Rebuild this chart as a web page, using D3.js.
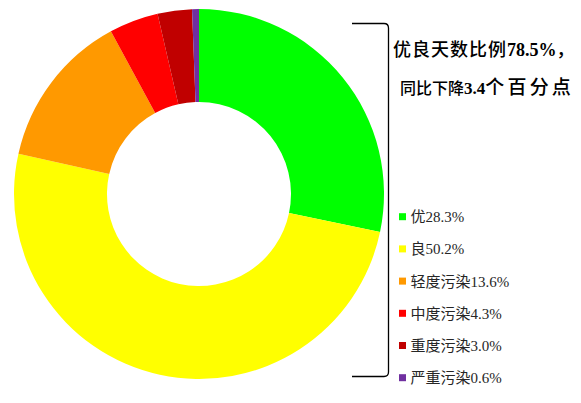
<!DOCTYPE html>
<html>
<head>
<meta charset="utf-8">
<script src="https://cdn.jsdelivr.net/npm/d3@7"></script>
<style>
  body { margin: 0; background: #fff; }
</style>
</head>
<body>
<div id="chart"></div>
<script>
var categories = ["优", "良", "轻度污染", "中度污染", "重度污染", "严重污染"];
var values = [28.3, 50.2, 13.6, 4.3, 3.0, 0.6];
var colors = ["#00FF00", "#FFFF00", "#FF9900", "#FF0000", "#C00000", "#7030A0"];
var noteLines = [
  [["优良天数比例", false], ["78.5%", true], ["，", false]],
  [["同比下降", false], ["3.4", true], ["个百分点", false]]
];

var width = 581, height = 403;
var cx = 199, cy = 194, outerR = 185, innerR = 92;

var svg = d3.select("#chart")
  .append("svg")
  .attr("width", width)
  .attr("height", height);

var pie = d3.pie().sort(null).value(function(d) { return d; });
var arc = d3.arc().innerRadius(innerR).outerRadius(outerR);

// donut
svg.append("g")
  .attr("transform", "translate(" + cx + "," + cy + ")")
  .selectAll("path")
  .data(pie(values))
  .enter()
  .append("path")
  .attr("d", arc)
  .attr("fill", function(d, i) { return colors[i]; });

// bracket
svg.append("path")
  .attr("d", "M352,23.5 L384,23.5 Q388.5,23.5 388.5,28 L388.5,372 Q388.5,376.5 384,376.5 L352,376.5")
  .attr("fill", "none")
  .attr("stroke", "#000")
  .attr("stroke-width", 1.3);

// note text: pieces flow on one line, sizes tuned to the source
var lineX = [393, 400], baseY = [56, 94];
var segSize = [[18, 18, 18], [16, 17, 19]];
var segSpace = [[1, 0, 0], [0, 0, 3.2]];
var note = svg.append("g");
noteLines.forEach(function(line, li) {
  var t = note.append("text")
    .attr("x", lineX[li])
    .attr("y", baseY[li])
    .attr("fill", "#000");
  line.forEach(function(p, pi) {
    t.append("tspan")
      .attr("font-size", segSize[li][pi])
      .attr("letter-spacing", segSpace[li][pi])
      .attr("font-family", p[1] ? "'Liberation Serif', serif" : "'Noto Sans CJK SC', sans-serif")
      .attr("font-weight", p[1] ? "bold" : "500")
      .text(p[0]);
  });
});

// legend
var y = d3.scalePoint()
  .domain(categories)
  .range([216.7, 377.7]);

var legend = svg.append("g")
  .selectAll("g")
  .data(categories)
  .enter()
  .append("g")
  .attr("transform", function(d) { return "translate(399," + y(d) + ")"; });

legend.append("rect")
  .attr("x", 0)
  .attr("y", -3.5)
  .attr("width", 7)
  .attr("height", 7)
  .attr("fill", function(d, i) { return colors[i]; });

legend.append("text")
  .attr("x", 11.5)
  .attr("y", 5.5)
  .attr("font-size", 15)
  .attr("fill", "#262626")
  .attr("font-family", "'Liberation Serif', 'Noto Sans CJK SC', serif")
  .text(function(d, i) { return d + values[i].toFixed(1) + "%"; });
</script>
</body>
</html>
